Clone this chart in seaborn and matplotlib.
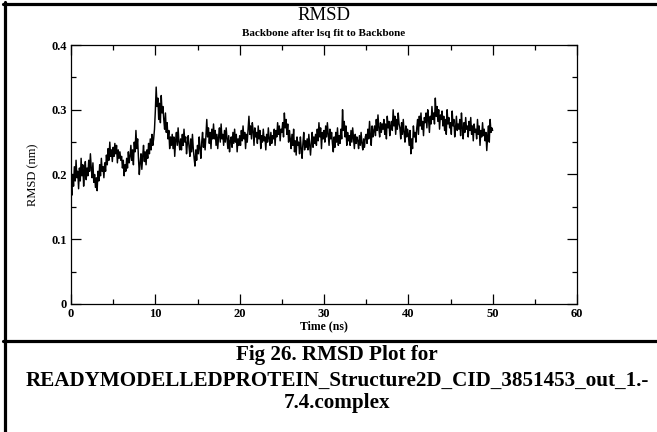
from matplotlib import pyplot as plt
from matplotlib.lines import Line2D
from matplotlib.ticker import MultipleLocator, FuncFormatter
import seaborn as sns
import pandas as pd
import numpy as np

# RMSD (nm), one value every 0.1 ns, split in 10 ns chunks
rmsd_0_10 = [
    0.185, 0.168, 0.2, 0.182, 0.212, 0.19, 0.222, 0.195, 0.205, 0.178,
    0.21, 0.19, 0.225, 0.198, 0.215, 0.182, 0.205, 0.22, 0.192, 0.21,
    0.198, 0.222, 0.205, 0.232, 0.21, 0.195, 0.218, 0.188, 0.2, 0.18,
    0.195, 0.175, 0.205, 0.19, 0.215, 0.198, 0.225, 0.205, 0.212, 0.195,
    0.218, 0.205, 0.23, 0.215, 0.24, 0.222, 0.25, 0.228, 0.238, 0.22,
    0.242, 0.228, 0.248, 0.232, 0.245, 0.218, 0.238, 0.225, 0.235, 0.222,
    0.228, 0.21, 0.222, 0.198, 0.215, 0.205, 0.225, 0.21, 0.235, 0.218,
    0.228, 0.245, 0.222, 0.238, 0.215, 0.25, 0.235, 0.268, 0.24, 0.255,
    0.225, 0.2, 0.218, 0.232, 0.208, 0.228, 0.245, 0.22, 0.235, 0.215,
    0.238, 0.225, 0.248, 0.232, 0.255, 0.238, 0.262, 0.245, 0.255, 0.27,
]
rmsd_10_20 = [
    0.298, 0.335, 0.305, 0.318, 0.285, 0.31, 0.28, 0.322, 0.295, 0.305,
    0.285, 0.27, 0.295, 0.265, 0.28, 0.255, 0.268, 0.24, 0.258, 0.245,
    0.262, 0.24, 0.258, 0.228, 0.252, 0.265, 0.245, 0.272, 0.25, 0.238,
    0.255, 0.238, 0.262, 0.245, 0.27, 0.25, 0.258, 0.232, 0.248, 0.26,
    0.242, 0.228, 0.255, 0.235, 0.262, 0.24, 0.225, 0.213, 0.238, 0.222,
    0.245, 0.232, 0.258, 0.24, 0.225, 0.25, 0.265, 0.242, 0.255, 0.238,
    0.26, 0.285, 0.258, 0.272, 0.248, 0.265, 0.24, 0.27, 0.255, 0.278,
    0.255, 0.268, 0.245, 0.262, 0.24, 0.258, 0.272, 0.25, 0.278, 0.255,
    0.262, 0.245, 0.268, 0.25, 0.272, 0.255, 0.24, 0.26, 0.235, 0.252,
    0.258, 0.242, 0.265, 0.248, 0.27, 0.25, 0.262, 0.235, 0.255, 0.245,
]
rmsd_20_30 = [
    0.26, 0.245, 0.268, 0.252, 0.275, 0.255, 0.265, 0.24, 0.262, 0.25,
    0.27, 0.29, 0.262, 0.275, 0.255, 0.28, 0.268, 0.245, 0.272, 0.258,
    0.265, 0.248, 0.275, 0.255, 0.268, 0.24, 0.26, 0.25, 0.27, 0.252,
    0.258, 0.238, 0.262, 0.25, 0.272, 0.255, 0.245, 0.265, 0.248, 0.26,
    0.255, 0.27, 0.245, 0.268, 0.258, 0.28, 0.262, 0.275, 0.252, 0.27,
    0.265, 0.28, 0.258, 0.295, 0.272, 0.285, 0.262, 0.278, 0.25, 0.268,
    0.255, 0.24, 0.262, 0.245, 0.27, 0.235, 0.252, 0.23, 0.258, 0.245,
    0.25, 0.232, 0.258, 0.24, 0.225, 0.248, 0.265, 0.238, 0.252, 0.242,
    0.255, 0.238, 0.262, 0.245, 0.23, 0.25, 0.265, 0.242, 0.258, 0.248,
    0.262, 0.245, 0.27, 0.252, 0.28, 0.258, 0.272, 0.24, 0.265, 0.255,
]
rmsd_30_40 = [
    0.268, 0.25, 0.275, 0.258, 0.28, 0.262, 0.245, 0.27, 0.255, 0.265,
    0.248, 0.235, 0.258, 0.242, 0.265, 0.25, 0.272, 0.245, 0.26, 0.248,
    0.27, 0.255, 0.3, 0.268, 0.282, 0.258, 0.275, 0.245, 0.265, 0.252,
    0.26, 0.245, 0.268, 0.25, 0.272, 0.255, 0.24, 0.262, 0.248, 0.258,
    0.252, 0.24, 0.26, 0.245, 0.265, 0.248, 0.238, 0.255, 0.242, 0.258,
    0.262, 0.248, 0.27, 0.255, 0.282, 0.26, 0.245, 0.275, 0.258, 0.268,
    0.275, 0.26, 0.285, 0.268, 0.292, 0.272, 0.258, 0.28, 0.265, 0.278,
    0.27, 0.285, 0.262, 0.278, 0.255, 0.29, 0.272, 0.282, 0.26, 0.275,
    0.282, 0.268, 0.3, 0.275, 0.29, 0.262, 0.285, 0.27, 0.295, 0.278,
    0.272, 0.255, 0.28, 0.262, 0.285, 0.265, 0.25, 0.275, 0.258, 0.27,
]
rmsd_40_50 = [
    0.262, 0.245, 0.268, 0.232, 0.255, 0.24, 0.275, 0.258, 0.265, 0.25,
    0.272, 0.285, 0.262, 0.29, 0.275, 0.295, 0.27, 0.282, 0.26, 0.288,
    0.28, 0.295, 0.272, 0.3, 0.285, 0.265, 0.29, 0.278, 0.305, 0.285,
    0.295, 0.278, 0.318, 0.29, 0.305, 0.282, 0.3, 0.27, 0.292, 0.285,
    0.298, 0.275, 0.29, 0.268, 0.285, 0.262, 0.3, 0.278, 0.288, 0.272,
    0.28, 0.262, 0.298, 0.275, 0.285, 0.258, 0.272, 0.29, 0.268, 0.278,
    0.27, 0.285, 0.26, 0.295, 0.272, 0.255, 0.28, 0.265, 0.288, 0.27,
    0.275, 0.258, 0.282, 0.268, 0.288, 0.262, 0.275, 0.252, 0.278, 0.265,
    0.27, 0.255, 0.285, 0.262, 0.275, 0.245, 0.268, 0.258, 0.28, 0.26,
    0.27, 0.252, 0.265, 0.237, 0.258, 0.275, 0.25, 0.285, 0.265, 0.272,
    0.268,
]

rmsd = rmsd_0_10 + rmsd_10_20 + rmsd_20_30 + rmsd_30_40 + rmsd_40_50
time_ns = np.linspace(0, 50, len(rmsd))
df = pd.DataFrame({"time": time_ns, "rmsd": rmsd})

caption = ["Fig 26. RMSD Plot for",
           "READYMODELLEDPROTEIN_Structure2D_CID_3851453_out_1.-",
           "7.4.complex"]

sns.set_style("ticks")
plt.rcParams["font.family"] = ["Liberation Serif", "DejaVu Serif"]
plt.rcParams["text.color"] = "black"
plt.rcParams["axes.labelcolor"] = "black"

fig = plt.figure(figsize=(6.57, 4.32), dpi=100)
fig.set_facecolor("white")
ax = fig.add_axes([71 / 657, 1 - 304 / 432, 506 / 657, 259 / 432])

sns.lineplot(data=df, x="time", y="rmsd", color="black", linewidth=1.05, ax=ax)

ax.set_xlim(0, 60)
ax.set_ylim(0, 0.4)
ax.xaxis.set_major_locator(MultipleLocator(10))
ax.xaxis.set_minor_locator(MultipleLocator(5))
ax.yaxis.set_major_locator(MultipleLocator(0.1))
ax.yaxis.set_minor_locator(MultipleLocator(0.05))
ax.yaxis.set_major_formatter(FuncFormatter(lambda v, p: "0" if abs(v) < 1e-9 else f"{v:.1f}"))
ax.tick_params(which="both", direction="in", top=True, right=True, width=0.9, colors="black")
ax.tick_params(which="major", length=7, labelsize=9, pad=3)
ax.tick_params(which="minor", length=3.5)
for lab in ax.get_xticklabels() + ax.get_yticklabels():
    lab.set_fontweight("bold")
for sp in ax.spines.values():
    sp.set_visible(True)
    sp.set_linewidth(0.9)
    sp.set_color("black")

ax.set_xlabel("Time (ns)", fontsize=8.5, fontweight="bold", labelpad=0)
ax.set_ylabel("RMSD (nm)", fontsize=9)
ax.yaxis.set_label_coords(-0.063, 0.5)

fig.text(324 / 657, 1 - 16 / 432, "RMSD", ha="center", va="center", fontsize=13.5)
fig.text(324 / 657, 1 - 33 / 432, "Backbone after lsq fit to Backbone", ha="center",
         va="center", fontsize=8, fontweight="bold")

# frame lines of the figure box
fig.add_artist(Line2D([3 / 657, 1], [1 - 3.5 / 432] * 2, color="black", linewidth=2.3))
fig.add_artist(Line2D([5 / 657] * 2, [0, 1 - 2 / 432], color="black", linewidth=2.3))
fig.add_artist(Line2D([3 / 657, 1], [1 - 341 / 432] * 2, color="black", linewidth=2.3))

for yy, line in zip([355, 381, 403], caption):
    fig.text(337 / 657, 1 - yy / 432, line, ha="center", va="center",
             fontsize=15.2, fontweight="bold")

fig.savefig("out.png", dpi=100)
